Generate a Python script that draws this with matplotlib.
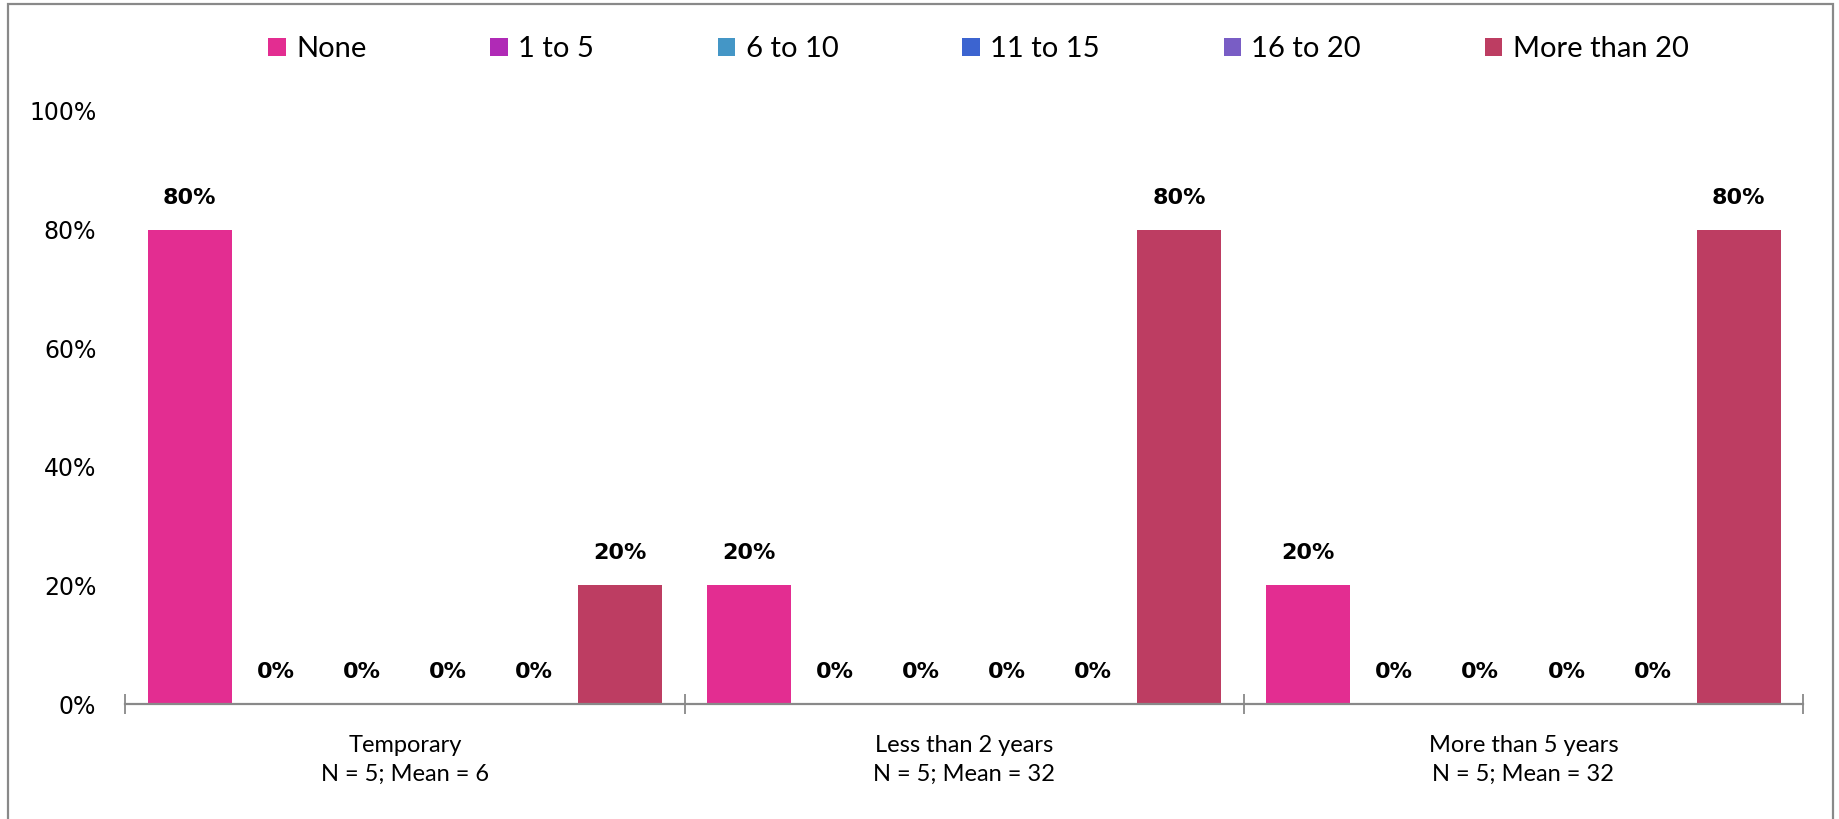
import numpy as np
import matplotlib
matplotlib.use("Agg")
import matplotlib.pyplot as plt
from matplotlib.patches import Rectangle

# ---------------------------------------------------------------- datos
grupos = ["Temporary\nN = 5; Mean = 6",
          "Less than 2 years\nN = 5; Mean = 32",
          "More than 5 years\nN = 5; Mean = 32"]
series = ["None", "1 to 5", "6 to 10", "11 to 15", "16 to 20", "More than 20"]
none_v = [0.80, 0.20, 0.20]
v1_5 = [0.0, 0.0, 0.0]
v6_10 = [0.0, 0.0, 0.0]
v11_15 = [0.0, 0.0, 0.0]
v16_20 = [0.0, 0.0, 0.0]
mas20_v = [0.20, 0.80, 0.80]
colores = ["#E32D91", "#B02AB6", "#4496C6", "#3C64D0", "#795DC5", "#BD3D62"]

valores = [none_v, v1_5, v6_10, v11_15, v16_20, mas20_v]

TXT = ["Lato", "DejaVu Sans"]
GRIS = "#898989"

# ---------------------------------------------------------------- figura
fig = plt.figure(figsize=(18.39, 8.19), dpi=100)
ax = fig.add_axes([0.0682, 0.1404, 0.9122, 0.7241])

x = np.arange(len(grupos))
w = 0.154
for i, (nom, vals, col) in enumerate(zip(series, valores, colores)):
    pos = x + (i - 2.5) * w
    ax.bar(pos, vals, width=w * 0.975, color=col, label=nom, zorder=2)
    for px, v in zip(pos, vals):
        ax.annotate(f"{v:.0%}", (px, v), xytext=(0, 23), textcoords="offset points",
                    ha="center", va="center", fontsize=16, fontweight="bold",
                    family="DejaVu Sans", color="black")

ax.set_xlim(-0.5, 2.5)
ax.set_ylim(0, 1)
ax.set_yticks(np.linspace(0, 1, 6))
ax.set_yticklabels([f"{t:.0%}" for t in np.linspace(0, 1, 6)], family="DejaVu Sans", fontsize=17)
ax.tick_params(axis="y", length=0, pad=21)

ax.set_xticks([-0.5, 0.5, 1.5, 2.5])
ax.set_xticklabels([])
ax.tick_params(axis="x", which="major", direction="inout", length=14, width=1.3, color=GRIS)
ax.set_xticks(x, minor=True)
ax.set_xticklabels(grupos, minor=True, family=TXT, fontsize=17, linespacing=1.47)
ax.tick_params(axis="x", which="minor", length=0, pad=22)

for s in ["top", "right", "left"]:
    ax.spines[s].set_visible(False)
ax.spines["bottom"].set_color(GRIS)
ax.spines["bottom"].set_linewidth(1.6)

leg = fig.legend(loc="center", bbox_to_anchor=(0.532, 0.940), ncol=6, frameon=False,
                 prop={"family": TXT, "size": 21}, handlelength=0.6, handleheight=0.6,
                 handletextpad=0.35, columnspacing=4.25)

# marco exterior del gráfico
fig.patches.append(Rectangle((8 / 1839, -0.01), 1825 / 1839, 1.005, transform=fig.transFigure,
                             fill=False, edgecolor=GRIS, linewidth=1.6))

fig.savefig("out.png", dpi=100)
